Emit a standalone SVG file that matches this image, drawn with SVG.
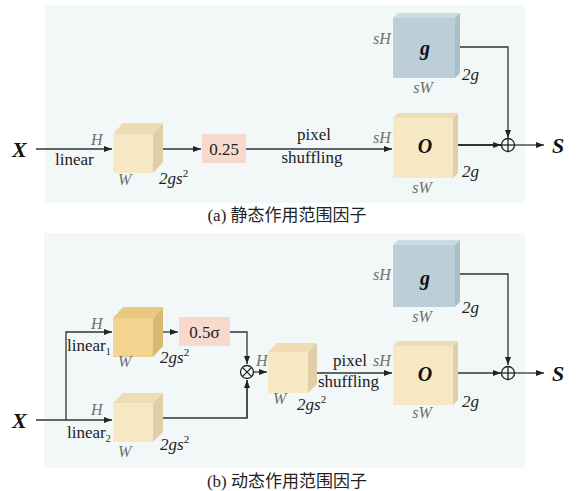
<svg xmlns="http://www.w3.org/2000/svg" width="579" height="491" viewBox="0 0 579 491" font-family="Liberation Serif, Times New Roman, serif">
<defs>
<marker id="ah" markerWidth="8" markerHeight="6" refX="8" refY="3" orient="auto" markerUnits="userSpaceOnUse"><path d="M0,0 L8,3 L0,6 z" fill="#222"/></marker>
<style>
.t{fill:#222;font-size:17px}
.it{font-style:italic;font-size:17px;fill:#222}
.gr{font-style:italic;font-size:16px;fill:#707070}
.bi{font-style:italic;font-weight:bold;fill:#111}
.cap{font-size:17px;fill:#222}
.ln{fill:none;stroke:#333;stroke-width:1.3}
.lf{fill:#f7e8c5}.lt{fill:#efdcb4}.ls{fill:#e0cea7}
.df{fill:#f2d490}.dt{fill:#e9c982}.ds{fill:#d9b972}
.bf{fill:#bccfd8}.bt{fill:#cadbe2}.bs{fill:#a9bfca}
.box{fill:#f8d9cd}
.op{fill:none;stroke:#222;stroke-width:1.3}
</style>
</defs>
<rect x="45" y="5" width="480" height="198" fill="#f2f7f8"/>
<rect x="44" y="233" width="481" height="235" fill="#f2f7f8"/>

<g id="connectors">
<line class="ln" x1="36" y1="149" x2="112" y2="149" marker-end="url(#ah)"/>
<line class="ln" x1="158" y1="149" x2="201" y2="149" marker-end="url(#ah)"/>
<line class="ln" x1="246" y1="149" x2="392" y2="149" marker-end="url(#ah)"/>
<polyline class="ln" points="458,47 508,47 508,138" marker-end="url(#ah)"/>
<line class="ln" style="stroke-width:2" x1="457" y1="145" x2="501" y2="145" marker-end="url(#ah)"/>
<line class="ln" x1="514" y1="145" x2="544" y2="145" marker-end="url(#ah)"/>

<line class="ln" x1="36" y1="420" x2="112" y2="420" marker-end="url(#ah)"/>
<polyline class="ln" points="66,420 66,332 112,332" marker-end="url(#ah)"/>
<line class="ln" x1="157" y1="332" x2="178" y2="332" marker-end="url(#ah)"/>
<polyline class="ln" points="230,332 247,332 247,364" marker-end="url(#ah)"/>
<polyline class="ln" style="stroke-width:1.7" points="157,418 247,418 247,380" marker-end="url(#ah)"/>
<line class="ln" x1="253" y1="372" x2="267" y2="372" marker-end="url(#ah)"/>
<line class="ln" x1="317" y1="373" x2="392" y2="373" marker-end="url(#ah)"/>
<polyline class="ln" points="458,274 508,274 508,365" marker-end="url(#ah)"/>
<line class="ln" x1="457" y1="373" x2="501" y2="373" marker-end="url(#ah)"/>
<line class="ln" x1="514" y1="373" x2="544" y2="373" marker-end="url(#ah)"/>
</g>

<!-- panel (a) -->
<g id="a-X"><text class="bi" x="12" y="157" font-size="22">X</text></g>
<g id="a-linear">
<polygon class="lt" points="113,134 123,123 163,123 153,134"/>
<polygon class="ls" points="153,134 163,123 163,162 153,173"/>
<rect class="lf" x="113" y="134" width="40" height="39"/>
<text class="gr" x="91" y="145">H</text>
<text class="t" x="55" y="165">linear</text>
<text class="gr" x="118" y="185">W</text>
<text class="it" x="159" y="184">2gs<tspan font-size="11" dy="-7" font-style="normal">2</tspan></text>
</g>
<g id="a-scale">
<rect class="box" x="202" y="134" width="44" height="29"/>
<text class="t" x="224" y="155" text-anchor="middle">0.25</text>
</g>
<g id="a-pixel">
<text class="t" x="314" y="140" text-anchor="middle">pixel</text>
<text class="t" x="312" y="163" text-anchor="middle">shuffling</text>
</g>
<g id="a-O">
<polygon class="lt" points="393,118 398,113 458,113 453,118"/>
<polygon class="ls" points="453,118 458,113 458,173 453,178"/>
<rect class="lf" x="393" y="118" width="60" height="60"/>
<text class="bi" x="425" y="153" font-size="20" text-anchor="middle">O</text>
<text class="gr" x="373" y="143">sH</text>
<text class="it" x="462" y="177">2g</text>
<text class="gr" x="422" y="193" text-anchor="middle">sW</text>
</g>
<g id="a-g">
<polygon class="bt" points="393,18 398,13 460,13 455,18"/>
<polygon class="bs" points="455,18 460,13 460,73 455,78"/>
<rect class="bf" x="393" y="18" width="62" height="60"/>
<text class="bi" x="425" y="55" font-size="20" text-anchor="middle">g</text>
<text class="gr" x="373" y="44">sH</text>
<text class="it" x="462" y="80">2g</text>
<text class="gr" x="423" y="93" text-anchor="middle">sW</text>
</g>
<g id="a-add">
<circle class="op" cx="508" cy="145" r="6.5"/>
<line class="op" x1="501.5" y1="145" x2="514.5" y2="145"/>
<line class="op" x1="508" y1="138.5" x2="508" y2="151.5"/>
</g>
<g id="a-S"><text class="bi" x="552" y="153" font-size="22">S</text></g>
<text class="cap" x="287" y="221" text-anchor="middle">(a) <tspan font-family="Noto Sans CJK SC, sans-serif">静态作用范围因子</tspan></text>

<!-- panel (b) -->
<g id="b-X"><text class="bi" x="12" y="428" font-size="22">X</text></g>
<g id="b-linear1">
<polygon class="dt" points="113,318 123,307 163,307 153,318"/>
<polygon class="ds" points="153,318 163,307 163,346 153,357"/>
<rect class="df" x="113" y="318" width="40" height="39"/>
<text class="gr" x="91" y="329">H</text>
<text class="t" x="67" y="351">linear<tspan font-size="10" dy="4">1</tspan></text>
<text class="gr" x="118" y="367">W</text>
<text class="it" x="160" y="363">2gs<tspan font-size="11" dy="-7" font-style="normal">2</tspan></text>
</g>
<g id="b-scale">
<rect class="box" x="179" y="317" width="51" height="29"/>
<text class="t" x="204.5" y="338" text-anchor="middle">0.5σ</text>
</g>
<g id="b-linear2">
<polygon class="lt" points="113,403 123,393 163,393 153,403"/>
<polygon class="ls" points="153,403 163,393 163,432 153,442"/>
<rect class="lf" x="113" y="403" width="40" height="39"/>
<text class="gr" x="91" y="415">H</text>
<text class="t" x="67" y="438">linear<tspan font-size="10" dy="4">2</tspan></text>
<text class="gr" x="118" y="457">W</text>
<text class="it" x="160" y="450">2gs<tspan font-size="11" dy="-7" font-style="normal">2</tspan></text>
</g>
<g id="b-mul">
<circle class="op" cx="247" cy="372" r="6.5"/>
<line class="op" x1="242.4" y1="367.4" x2="251.6" y2="376.6"/>
<line class="op" x1="251.6" y1="367.4" x2="242.4" y2="376.6"/>
</g>
<g id="b-mid">
<text class="gr" x="256" y="366">H</text>
<polygon class="lt" points="268,352 277,343 317,343 308,352"/>
<polygon class="ls" points="308,352 317,343 317,384 308,393"/>
<rect class="lf" x="268" y="352" width="40" height="41"/>
<text class="gr" x="273" y="404">W</text>
<text class="it" x="297" y="410">2gs<tspan font-size="11" dy="-7" font-style="normal">2</tspan></text>
</g>
<g id="b-pixel">
<text class="t" x="333" y="366">pixel</text>
<text class="t" x="318" y="387">shuffling</text>
</g>
<g id="b-O">
<polygon class="lt" points="393,346 398,341 458,341 453,346"/>
<polygon class="ls" points="453,346 458,341 458,400 453,405"/>
<rect class="lf" x="393" y="346" width="60" height="59"/>
<text class="bi" x="425" y="381" font-size="20" text-anchor="middle">O</text>
<text class="gr" x="373" y="366">sH</text>
<text class="it" x="462" y="407">2g</text>
<text class="gr" x="422" y="418" text-anchor="middle">sW</text>
</g>
<g id="b-g">
<polygon class="bt" points="393,245 398,240 460,240 455,245"/>
<polygon class="bs" points="455,245 460,240 460,302 455,307"/>
<rect class="bf" x="393" y="245" width="62" height="62"/>
<text class="bi" x="425" y="285" font-size="20" text-anchor="middle">g</text>
<text class="gr" x="373" y="280">sH</text>
<text class="it" x="462" y="313">2g</text>
<text class="gr" x="422" y="322" text-anchor="middle">sW</text>
</g>
<g id="b-add">
<circle class="op" cx="508" cy="373" r="6.5"/>
<line class="op" x1="501.5" y1="373" x2="514.5" y2="373"/>
<line class="op" x1="508" y1="366.5" x2="508" y2="379.5"/>
</g>
<g id="b-S"><text class="bi" x="552" y="381" font-size="22">S</text></g>
<text class="cap" x="287" y="487" text-anchor="middle">(b) <tspan font-family="Noto Sans CJK SC, sans-serif">动态作用范围因子</tspan></text>
</svg>
